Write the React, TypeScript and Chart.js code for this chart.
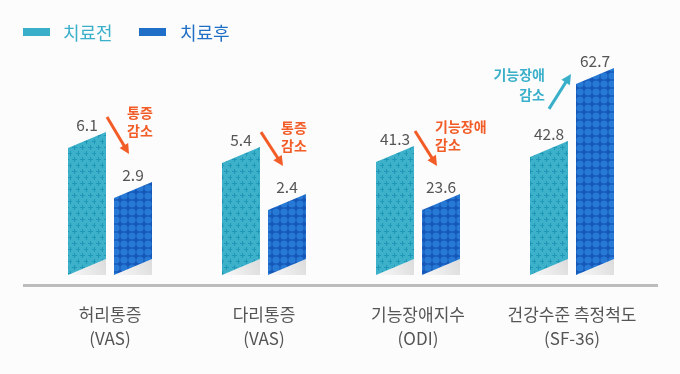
import { useEffect, useRef } from "react";
import { Chart, registerables } from "chart.js";

Chart.register(...registerables);

// ---- data ----
const categories: string[][] = [
  ["허리통증", "(VAS)"],
  ["다리통증", "(VAS)"],
  ["기능장애지수", "(ODI)"],
  ["건강수준 측정척도", "(SF-36)"],
];
const seriesNames = ["치료전", "치료후"];
const beforeValues = [6.1, 5.4, 41.3, 42.8];
const afterValues = [2.9, 2.4, 23.6, 62.7];
// bar lengths as drawn in the infographic (each measure uses its own visual scale)
const beforeBarLengths = [66, 58.2, 58.8, 61.4];
const afterBarLengths = [40, 33.8, 33.8, 99.3];
const annotationTexts: string[][] = [
  ["통증", "감소"],
  ["통증", "감소"],
  ["기능장애", "감소"],
  ["기능장애", "감소"],
];
const annotationDirections = ["down", "down", "down", "up"];

// ---- styles ----
const FONT = '"Noto Sans CJK KR", "Noto Sans", sans-serif';
const SKEW = 16;
const TEAL = "#3AAFCA";
const BLUE = "#1F6FC8";
const ORANGE = "#F25C27";
const BG = "#fcfcfc";

function makeTealPattern(ctx: CanvasRenderingContext2D) {
  const c = document.createElement("canvas");
  c.width = 8;
  c.height = 12;
  const p = c.getContext("2d")!;
  p.fillStyle = "#3DB1CA";
  p.fillRect(0, 0, 8, 12);
  p.fillStyle = "#1E98B6";
  const plus = (cx: number, cy: number) => {
    p.fillRect(cx - 2, cy, 5, 1);
    p.fillRect(cx, cy - 2, 1, 5);
  };
  plus(2, 3);
  plus(6, 9);
  return ctx.createPattern(c, "repeat")!;
}

function makeBluePattern(ctx: CanvasRenderingContext2D) {
  const c = document.createElement("canvas");
  c.width = 8;
  c.height = 8;
  const p = c.getContext("2d")!;
  p.fillStyle = "#1658B8";
  p.fillRect(0, 0, 8, 8);
  p.fillStyle = "#2679D4";
  p.beginPath();
  p.arc(4, 4, 3.6, 0, Math.PI * 2);
  p.fill();
  return ctx.createPattern(c, "repeat")!;
}

function drawArrow(
  ctx: CanvasRenderingContext2D,
  x1: number,
  y1: number,
  x2: number,
  y2: number,
  color: string
) {
  const ang = Math.atan2(y2 - y1, x2 - x1);
  const head = 10;
  const half = 5;
  const sx = x2 - Math.cos(ang) * head;
  const sy = y2 - Math.sin(ang) * head;
  ctx.save();
  ctx.strokeStyle = color;
  ctx.fillStyle = color;
  ctx.lineWidth = 3;
  ctx.lineCap = "butt";
  ctx.beginPath();
  ctx.moveTo(x1, y1);
  ctx.lineTo(sx + Math.cos(ang) * 1, sy + Math.sin(ang) * 1);
  ctx.stroke();
  ctx.beginPath();
  ctx.moveTo(x2, y2);
  ctx.lineTo(sx + Math.cos(ang + Math.PI / 2) * half, sy + Math.sin(ang + Math.PI / 2) * half);
  ctx.lineTo(sx + Math.cos(ang - Math.PI / 2) * half, sy + Math.sin(ang - Math.PI / 2) * half);
  ctx.closePath();
  ctx.fill();
  ctx.restore();
}

export default function App() {
  const ref = useRef<HTMLCanvasElement>(null);

  useEffect(() => {
    document.body.style.margin = "0";
    document.body.style.background = BG;
    const canvas = ref.current!;
    const ctx0 = canvas.getContext("2d")!;
    const patterns = [makeTealPattern(ctx0), makeBluePattern(ctx0)];
    const valueSets = [beforeValues, afterValues];

    const customPlugin = {
      id: "infographic",
      beforeDraw(chart: any) {
        const ctx = chart.ctx;
        ctx.save();
        ctx.fillStyle = BG;
        ctx.fillRect(0, 0, chart.width, chart.height);
        ctx.restore();
      },
      afterDatasetsDraw(chart: any) {
        const ctx: CanvasRenderingContext2D = chart.ctx;
        const area = chart.chartArea;
        ctx.save();
        // floor line
        ctx.strokeStyle = "#bdbdbd";
        ctx.lineWidth = 3;
        ctx.beginPath();
        ctx.moveTo(area.left - 10, area.bottom + 10.5);
        ctx.lineTo(area.right + 9, area.bottom + 10.5);
        ctx.stroke();

        chart.data.datasets.forEach((_ds: any, di: number) => {
          const meta = chart.getDatasetMeta(di);
          meta.data.forEach((bar: any, i: number) => {
            const { x, y, base, width } = bar.getProps(["x", "y", "base", "width"], true);
            const l = x - width / 2;
            const r = x + width / 2;
            // floor shadow
            const g = ctx.createLinearGradient(l, base, r, base - SKEW);
            g.addColorStop(0, "#f9f9f9");
            g.addColorStop(1, "#dcdcdc");
            ctx.fillStyle = g;
            ctx.beginPath();
            ctx.moveTo(l, base);
            ctx.lineTo(r, base - SKEW);
            ctx.lineTo(r, base);
            ctx.closePath();
            ctx.fill();
            // slanted bar
            ctx.fillStyle = patterns[di];
            ctx.beginPath();
            ctx.moveTo(l, base);
            ctx.lineTo(l, y);
            ctx.lineTo(r, y - SKEW);
            ctx.lineTo(r, base - SKEW);
            ctx.closePath();
            ctx.fill();
            // value label
            ctx.fillStyle = "#555555";
            ctx.font = `15.5px ${FONT}`;
            ctx.textAlign = "center";
            ctx.textBaseline = "middle";
            ctx.fillText(valueSets[di][i].toFixed(1), x, y - SKEW / 2 - 15);
          });
        });

        // annotations
        const m0 = chart.getDatasetMeta(0).data;
        const m1 = chart.getDatasetMeta(1).data;
        annotationTexts.forEach((lines, i) => {
          const b0 = m0[i].getProps(["x", "y", "width"], true);
          const b1 = m1[i].getProps(["x", "y", "width"], true);
          ctx.font = `bold 14px ${FONT}`;
          ctx.textBaseline = "middle";
          if (annotationDirections[i] === "down") {
            const r0 = b0.x + b0.width / 2;
            drawArrow(ctx, r0 + 1, b0.y - SKEW - 15, b1.x - 4, b1.y - SKEW / 2 - 36, ORANGE);
            ctx.fillStyle = ORANGE;
            ctx.textAlign = "left";
            lines.forEach((t, k) => ctx.fillText(t, b1.x - 6, b0.y - SKEW - 19 + k * 18));
          } else {
            const l1 = b1.x - b1.width / 2;
            drawArrow(ctx, b0.x, b0.y - SKEW / 2 - 40, l1 - 5, b1.y - 10, TEAL);
            ctx.fillStyle = TEAL;
            ctx.textAlign = "right";
            lines.forEach((t, k) => ctx.fillText(t, b0.x - 4, b1.y - 9 + k * 20));
          }
        });

        // legend
        const legendItems = [
          { box: 23, text: 63, color: TEAL, textColor: TEAL },
          { box: 139, text: 180, color: BLUE, textColor: "#1F6FC4" },
        ];
        ctx.font = `18px ${FONT}`;
        ctx.textAlign = "left";
        ctx.textBaseline = "middle";
        legendItems.forEach((it, k) => {
          ctx.fillStyle = it.color;
          ctx.fillRect(it.box, 28, 27, 8);
          ctx.fillStyle = it.textColor;
          ctx.fillText(seriesNames[k], it.text, 33);
        });
        ctx.restore();
      },
    };

    const chart = new Chart(canvas, {
      type: "bar",
      data: {
        labels: categories,
        datasets: [
          {
            label: seriesNames[0],
            data: beforeBarLengths,
            backgroundColor: "rgba(0,0,0,0)",
            borderWidth: 0,
            categoryPercentage: 92 / 154,
            barPercentage: 38 / 46,
          },
          {
            label: seriesNames[1],
            data: afterBarLengths,
            backgroundColor: "rgba(0,0,0,0)",
            borderWidth: 0,
            categoryPercentage: 92 / 154,
            barPercentage: 38 / 46,
          },
        ],
      },
      options: {
        responsive: false,
        devicePixelRatio: 1,
        animation: false,
        events: [],
        layout: { padding: { top: 25, left: 33, right: 31, bottom: 0 } },
        plugins: {
          legend: { display: false },
          tooltip: { enabled: false },
        },
        scales: {
          x: {
            grid: { display: false, drawTicks: false },
            border: { display: false },
            ticks: {
              color: "#555555",
              padding: 28,
              maxRotation: 0,
              autoSkip: false,
              font: { family: FONT, size: 17, lineHeight: 24 / 17 },
            },
            afterFit: (scale: any) => {
              scale.height = 99;
            },
          },
          y: {
            display: false,
            min: 0,
            max: 130,
          },
        },
      },
      plugins: [customPlugin],
    });

    return () => chart.destroy();
  }, []);

  return (
    <div style={{ position: "absolute", left: 0, top: 0, width: 680, height: 374, background: BG }}>
      <canvas ref={ref} width={680} height={374} style={{ display: "block", width: 680, height: 374 }} />
    </div>
  );
}
